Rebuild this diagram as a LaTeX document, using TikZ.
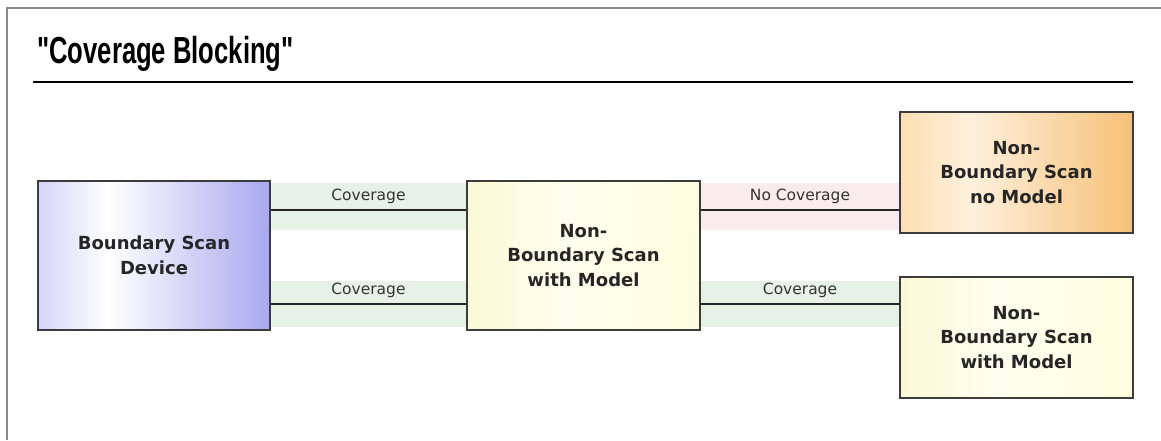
\documentclass[tikz,border=0pt]{standalone}
\usepackage{fontspec}
\setmainfont{DejaVu Sans}
\newfontfamily\titlefont{Liberation Sans}[FakeStretch=0.68]
\usetikzlibrary{positioning, calc, backgrounds}
\definecolor{framegray}{RGB}{140,140,140}
\definecolor{boxline}{RGB}{60,60,60}
\definecolor{bsdleft}{RGB}{212,212,246}
\definecolor{bsdright}{RGB}{168,168,240}
\definecolor{modelleft}{RGB}{250,248,212}
\definecolor{modelright}{RGB}{255,253,222}
\definecolor{nomodelleft}{RGB}{252,222,178}
\definecolor{nomodelright}{RGB}{247,192,118}
\definecolor{greenband}{RGB}{231,242,231}
\definecolor{pinkband}{RGB}{250,236,237}
\pgfdeclarehorizontalshading{bsdshade}{100bp}{color(0bp)=(bsdleft); color(25bp)=(bsdleft); color(40bp)=(white); color(75bp)=(bsdright); color(100bp)=(bsdright)}
\pgfdeclarehorizontalshading{modelshade}{100bp}{color(0bp)=(modelleft); color(25bp)=(modelleft); color(45bp)=(white!50!modelright); color(75bp)=(modelright); color(100bp)=(modelright)}
\pgfdeclarehorizontalshading{nomodelshade}{100bp}{color(0bp)=(nomodelleft); color(25bp)=(nomodelleft); color(40bp)=(white!55!nomodelleft); color(75bp)=(nomodelright); color(100bp)=(nomodelright)}

\begin{document}
\begin{tikzpicture}[x=0.025cm, y=-0.025cm,
    box/.style={draw=boxline, line width=1.4pt, align=center, text=black!85,
        font=\bfseries\fontsize{12.8}{17.5}\selectfont, inner sep=0pt},
    bigbox/.style={box, minimum width=5.8cm, minimum height=3.725cm},
    smallbox/.style={box, minimum width=5.825cm, minimum height=3.025cm},
    link/.style={draw=black!85, line width=1.4pt},
    lbl/.style={font=\fontsize{11}{12}\selectfont, text=black!80, inner sep=0pt, above=0.13cm}]
        \useasboundingbox (0,0) rectangle (1161,440);
        % Frame
        \draw[framegray, line width=1.5pt] (7,440) -- (7,8) -- (1161,8);
        
        % Title
        \node[anchor=base west, inner sep=0pt, font=\titlefont\bfseries\fontsize{26.8}{30}\selectfont] (title) at (37,63) {"Coverage Blocking"};
        \draw[line width=1.5pt] (33,82) -- (1133,82);
        
        % Boxes
        \node[bigbox, shading=bsdshade] (bsd) at (154,255.5) {Boundary Scan\\Device};
        \node[bigbox, minimum width=5.825cm, shading=modelshade] (nbsm) at (583.5,255.5) {Non-\\Boundary Scan\\with Model};
        \node[smallbox, shading=nomodelshade] (nbsn) at (1016.5,172.5) {Non-\\Boundary Scan\\no Model};
        \node[smallbox, shading=modelshade] (nbsw) at (1016.5,337.5) {Non-\\Boundary Scan\\with Model};
        
        % Link levels
        \coordinate (upper) at (0,210);
        \coordinate (lower) at (0,304);
        
        % Bands behind the links
        \begin{scope}[on background layer]
            \fill[greenband] (bsd.east |- 0,183) rectangle (nbsm.west |- 0,230);
            \fill[greenband] (bsd.east |- 0,281) rectangle (nbsm.west |- 0,327);
            \fill[pinkband] (nbsm.east |- 0,183) rectangle (nbsn.west |- 0,230);
            \fill[greenband] (nbsm.east |- 0,281) rectangle (nbsw.west |- 0,327);
        \end{scope}
        
        % Links
        \draw[link] (bsd.east |- upper) -- node[lbl] {Coverage} (nbsm.west |- upper);
        \draw[link] (bsd.east |- lower) -- node[lbl] {Coverage} (nbsm.west |- lower);
        \draw[link] (nbsm.east |- upper) -- node[lbl] {No Coverage} (nbsn.west |- upper);
        \draw[link] (nbsm.east |- lower) -- node[lbl] {Coverage} (nbsw.west |- lower);
\end{tikzpicture}
\end{document}
